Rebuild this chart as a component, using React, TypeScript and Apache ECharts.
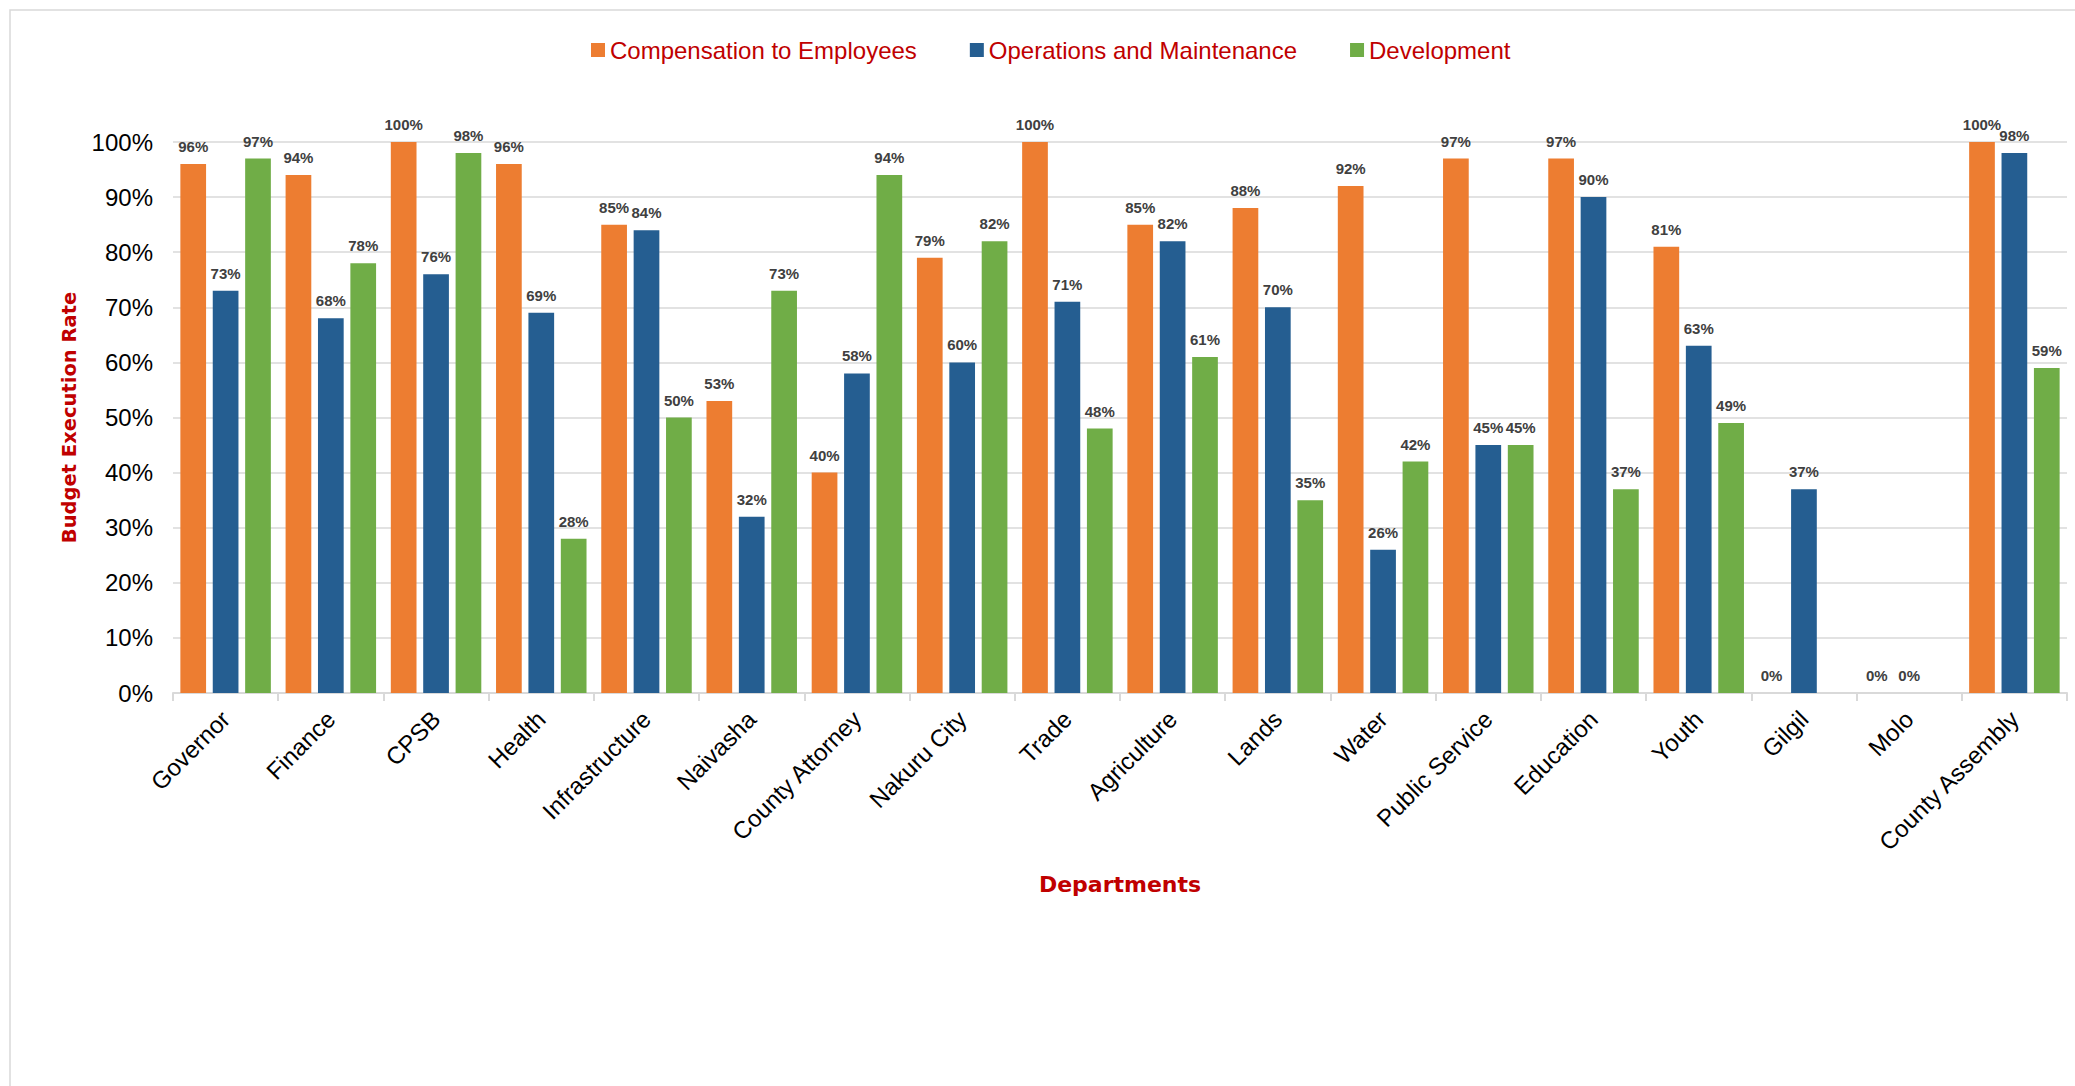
import React, { useEffect, useRef } from "react";
import * as echarts from "echarts";

const categories = [
  "Governor", "Finance", "CPSB", "Health", "Infrastructure", "Naivasha",
  "County Attorney", "Nakuru City", "Trade", "Agriculture", "Lands", "Water",
  "Public Service", "Education", "Youth", "Gilgil", "Molo", "County Assembly",
];
const compensation = [96, 94, 100, 96, 85, 53, 40, 79, 100, 85, 88, 92, 97, 97, 81, 0, 0, 100];
const operations = [73, 68, 76, 69, 84, 32, 58, 60, 71, 82, 70, 26, 45, 90, 63, 37, 0, 98];
const development: (number | null)[] = [97, 78, 98, 28, 50, 73, 94, 82, 48, 61, 35, 42, 45, 37, 49, null, null, 59];
const seriesNames = ["Compensation to Employees", "Operations and Maintenance", "Development"];
const seriesColors = ["#ED7D31", "#255E91", "#70AD47"];
const yTicks = { min: 0, max: 100, interval: 10 };

export default function App() {
  const ref = useRef<HTMLDivElement>(null);
  useEffect(() => {
    document.body.style.margin = "0";
    if (!ref.current) return;
    const chart = echarts.init(ref.current, null, { renderer: "svg" });
    const labelStyle = {
      show: true,
      position: "top" as const,
      distance: 10,
      color: "#404040",
      fontWeight: "bold" as const,
      fontSize: 15,
      fontFamily: "Liberation Sans Narrow, Liberation Sans, Arial, sans-serif",
      formatter: (p: any) => `${p.value}%`,
    };
    const data = [compensation, operations, development];
    chart.setOption({
      animation: false,
      backgroundColor: "#ffffff",
      graphic: [
        {
          type: "rect",
          shape: { x: 10, y: 10, width: 2100, height: 1100 },
          style: { fill: "none", stroke: "#D9D9D9", lineWidth: 1.5 },
          silent: true,
          z: -10,
        },
      ],
      legend: {
        top: 33,
        left: 586,
        itemWidth: 14,
        itemHeight: 14,
        itemGap: 53,
        icon: "rect",
        textStyle: {
          color: "#C00000",
          fontSize: 24,
          fontFamily: "Liberation Sans Narrow, Liberation Sans, Arial, sans-serif",
        },
        data: seriesNames,
      },
      grid: { left: 173, right: 8, top: 142, bottom: 393, containLabel: false },
      xAxis: {
        type: "category",
        data: categories,
        name: "Departments",
        nameLocation: "middle",
        nameGap: 180,
        nameTextStyle: {
          color: "#C00000",
          fontWeight: "bold",
          fontSize: 22,
          fontFamily: "DejaVu Sans, sans-serif",
        },
        axisLine: { lineStyle: { color: "#D9D9D9", width: 2 } },
        axisTick: { show: true, length: 8, lineStyle: { color: "#D9D9D9", width: 2 } },
        axisLabel: {
          rotate: 45,
          interval: 0,
          margin: 22,
          color: "#000000",
          fontSize: 24,
          fontFamily: "Liberation Sans, Arial, sans-serif",
        },
      },
      yAxis: {
        type: "value",
        min: yTicks.min,
        max: yTicks.max,
        interval: yTicks.interval,
        name: "Budget Execution Rate",
        nameLocation: "middle",
        nameRotate: 90,
        nameGap: 94,
        nameTextStyle: {
          color: "#C00000",
          fontWeight: "bold",
          fontSize: 19.5,
          fontFamily: "DejaVu Sans, sans-serif",
        },
        axisLine: { show: false },
        axisTick: { show: false },
        axisLabel: {
          margin: 20,
          color: "#000000",
          fontSize: 24,
          fontFamily: "Liberation Sans, Arial, sans-serif",
          formatter: (v: number) => `${v}%`,
        },
        splitLine: { lineStyle: { color: "#D9D9D9", width: 1.5 } },
      },
      series: seriesNames.map((name, i) => ({
        name,
        type: "bar",
        data: data[i],
        barGap: "26%",
        barCategoryGap: "14%",
        itemStyle: { color: seriesColors[i] },
        label: labelStyle,
      })),
    });
    return () => chart.dispose();
  }, []);
  return <div ref={ref} style={{ width: 2075, height: 1086 }} />;
}
